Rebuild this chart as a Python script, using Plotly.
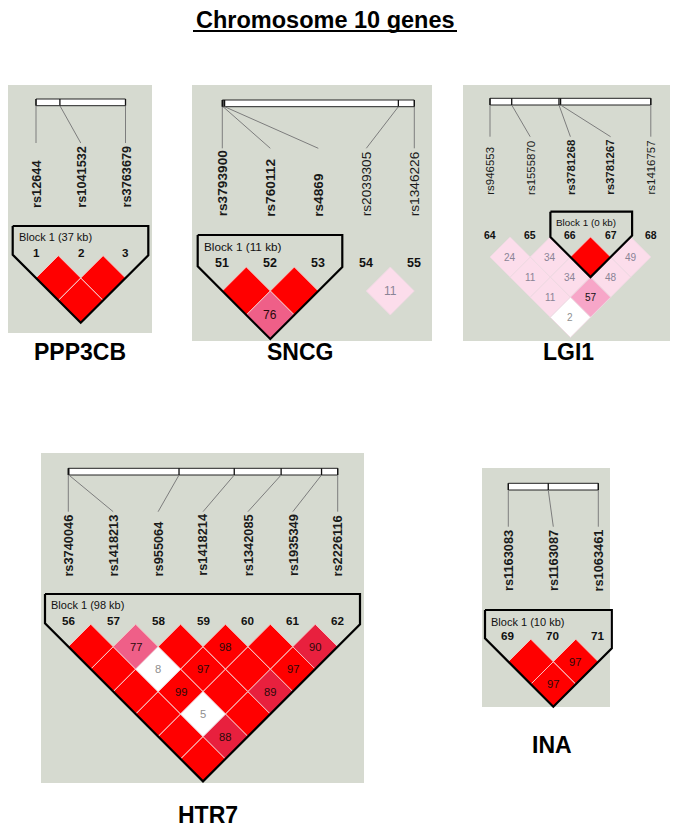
import plotly.graph_objects as go

# ---------------- data ----------------
title_text = "Chromosome 10 genes"

ppp3cb_markers = ["rs12644", "rs1041532", "rs3763679"]
ppp3cb_numbers = [1, 2, 3]
ppp3cb_pos = [0.0, 0.267, 1.0]          # relative physical position along the bar
ppp3cb_block = [0, 2]
ppp3cb_block_kb = 37
ppp3cb_dprime = [[100, 100], [100]]
ppp3cb_ldclass = [["R", "R"], ["R"]]

sncg_markers = ["rs3793900", "rs760112", "rs4869", "rs2039305", "rs1346226"]
sncg_numbers = [51, 52, 53, 54, 55]
sncg_pos = [0.0, 0.004, 0.012, 0.917, 1.0]
sncg_block = [0, 2]
sncg_block_kb = 11
sncg_dprime = [[100, 100, None, 11], [76, None, None], [None, None], [None]]
sncg_ldclass = [["R", "R", None, "l"], ["p", None, None], [None, None], [None]]

lgi1_markers = ["rs946553", "rs1555870", "rs3781268", "rs3781267", "rs1416757"]
lgi1_numbers = [64, 65, 66, 67, 68]
lgi1_pos = [0.0, 0.135, 0.429, 0.439, 1.0]
lgi1_block = [2, 3]
lgi1_block_kb = 0
lgi1_dprime = [[24, 34, 100, 49], [11, 34, 48], [11, 57], [2]]
lgi1_ldclass = [["l", "l", "R", "l"], ["l", "l", "l"], ["l", "m"], ["w"]]

htr7_markers = ["rs3740046", "rs1418213", "rs955064", "rs1418214", "rs1342085", "rs1935349", "rs2226116"]
htr7_numbers = [56, 57, 58, 59, 60, 61, 62]
htr7_pos = [0.0, 0.002, 0.411, 0.616, 0.79, 0.94, 1.0]
htr7_block = [0, 6]
htr7_block_kb = 98
htr7_dprime = [[100, 77, 100, 98, 100, 90],
               [100, 8, 97, 100, 97],
               [100, 99, 100, 89],
               [100, 5, 100],
               [100, 88],
               [100]]
htr7_ldclass = [["R", "p", "R", "R", "R", "d"],
                ["R", "w", "R", "R", "R"],
                ["R", "R", "R", "d"],
                ["R", "w", "R"],
                ["R", "d"],
                ["R"]]

ina_markers = ["rs1163083", "rs1163087", "rs1063461"]
ina_numbers = [69, 70, 71]
ina_pos = [0.0, 0.444, 1.0]
ina_block = [0, 2]
ina_block_kb = 10
ina_dprime = [[100, 97], [97]]
ina_ldclass = [["R", "R"], ["R"]]

# ---------------- styles / layout ----------------
FONT = "Liberation Sans, Arial, sans-serif"
GRAY = "#D6DAD0"
FILL = {"R": "#FF0000", "d": "#E8203E", "p": "#EF5F88", "m": "#F7A6C8", "l": "#FCDDEB", "w": "#FFFFFF"}
TXTC = {"R": "#2a0a0a", "d": "#2a0a0a", "p": "#2a0a0a", "m": "#111111", "l": "#8a8496", "w": "#8f8f8f"}

panels = [
    dict(gene="PPP3CB", markers=ppp3cb_markers, nums=ppp3cb_numbers, pos=ppp3cb_pos,
         block=ppp3cb_block, kb=ppp3cb_block_kb, dp=ppp3cb_dprime, cls=ppp3cb_ldclass,
         box=(8, 85, 152, 333), x0=36, s=44.75, yb=99, line_end=143, lab_bot=210,
         blk_top=226, blk_txt=237, num_y=252.5, row1=278, pad=(23.3, 22.8), gene_xy=(80, 352)),
    dict(gene="SNCG", markers=sncg_markers, nums=sncg_numbers, pos=sncg_pos,
         block=sncg_block, kb=sncg_block_kb, dp=sncg_dprime, cls=sncg_ldclass,
         box=(192, 85, 432, 341), x0=222.3, s=48.0, yb=100, line_end=148.3, lab_bot=218.5,
         blk_top=235, blk_txt=246.7, num_y=263.3, row1=291, pad=(24.6, 24.0), gene_xy=(300, 352)),
    dict(gene="LGI1", markers=lgi1_markers, nums=lgi1_numbers, pos=lgi1_pos,
         block=lgi1_block, kb=lgi1_block_kb, dp=lgi1_dprime, cls=lgi1_ldclass,
         box=(463, 85, 670, 341), x0=490, s=40.2, yb=98.3, line_end=136.7, lab_bot=196.7,
         blk_top=211.7, blk_txt=222.7, num_y=235, row1=257, pad=(20.0, 21.5), gene_xy=(568, 352)),
    dict(gene="HTR7", markers=htr7_markers, nums=htr7_numbers, pos=htr7_pos,
         block=htr7_block, kb=htr7_block_kb, dp=htr7_dprime, cls=htr7_ldclass,
         box=(41, 453, 364, 783), x0=68.3, s=44.9, yb=468.3, line_end=511.7, lab_bot=578.3,
         blk_top=594, blk_txt=605, num_y=620.7, row1=646.7, pad=(23.3, 22.3), gene_xy=(208, 815)),
    dict(gene="INA", markers=ina_markers, nums=ina_numbers, pos=ina_pos,
         block=ina_block, kb=ina_block_kb, dp=ina_dprime, cls=ina_ldclass,
         box=(482, 468, 610, 707), x0=508.3, s=45.0, yb=483.3, line_end=526.7, lab_bot=593.3,
         blk_top=610, blk_txt=622.3, num_y=635.7, row1=661.7, pad=(23.3, 13.5), gene_xy=(552, 745)),
]

fig = go.Figure()
shapes = []
annotations = []

for p in panels:
    s = p["s"]
    h = s / 2.0
    n = len(p["markers"])
    xs = [p["x0"] + i * s for i in range(n)]
    bx0, by0, bx1, by1 = p["box"]
    # gray panel
    shapes.append(dict(type="rect", xref="x", yref="y", x0=bx0, y0=by0, x1=bx1, y1=by1,
                       fillcolor=GRAY, line=dict(width=0), layer="below"))
    # physical map bar
    bar_l, bar_r = xs[0], xs[-1]
    yb = p["yb"]
    bh = 6.7
    shapes.append(dict(type="rect", xref="x", yref="y", x0=bar_l, y0=yb, x1=bar_r, y1=yb + bh,
                       fillcolor="white", line=dict(color="#222", width=1)))
    for i, fr in enumerate(p["pos"]):
        tx = bar_l + fr * (bar_r - bar_l)
        shapes.append(dict(type="line", xref="x", yref="y", x0=tx, y0=yb, x1=tx, y1=yb + bh,
                           line=dict(color="#111", width=1.3)))
        shapes.append(dict(type="line", xref="x", yref="y", x0=tx, y0=yb + bh, x1=xs[i], y1=p["line_end"],
                           line=dict(color="#7d7d7d", width=1)))
    a, b = p["block"]
    fsz_lab = s * 0.285
    for i, name in enumerate(p["markers"]):
        bold = a <= i <= b
        annotations.append(dict(x=xs[i], y=p["lab_bot"], xref="x", yref="y", text=("<b>%s</b>" % name) if bold else name,
                                textangle=-90, showarrow=False, xanchor="center", yanchor="bottom",
                                font=dict(family=FONT, size=fsz_lab, color="#1a1a1a")))
        annotations.append(dict(x=xs[i], y=p["num_y"], xref="x", yref="y", text="<b>%d</b>" % p["nums"][i],
                                showarrow=False, xanchor="center", yanchor="middle",
                                font=dict(family=FONT, size=s * 0.26, color="#111")))
    # LD cells
    groups = {}
    for k, row in enumerate(p["cls"]):
        for i, c in enumerate(row):
            if c is None:
                continue
            j = i + k + 1
            cx = (xs[i] + xs[j]) / 2.0
            cy = p["row1"] + k * h
            g = groups.setdefault(c, ([], []))
            g[0].extend([cx, cx + h, cx, cx - h, cx, None])
            g[1].extend([cy - h, cy, cy + h, cy, cy - h, None])
            v = p["dp"][k][i]
            if v is not None and v < 100:
                annotations.append(dict(x=cx, y=cy, xref="x", yref="y", text=str(v), showarrow=False,
                                        xanchor="center", yanchor="middle",
                                        font=dict(family=FONT, size=s * 0.25, color=TXTC[c])))
    for c, (gx, gy) in groups.items():
        edge = "#F6C6C6" if c in ("R", "d", "p") else "#EED9E2"
        fig.add_trace(go.Scatter(x=gx, y=gy, mode="lines", fill="toself", fillcolor=FILL[c],
                                 line=dict(color=edge, width=0.9), hoverinfo="skip", showlegend=False))
    # block outline
    L = xs[a] - p["pad"][0]
    R = xs[b] + p["pad"][1]
    ax_ = (xs[a] + xs[b]) / 2.0
    ay_ = p["row1"] + (b - a) * h
    ox = [L, R, R, ax_, L, L]
    oy = [p["blk_top"], p["blk_top"], ay_ - (R - ax_), ay_, ay_ - (ax_ - L), p["blk_top"]]
    fig.add_trace(go.Scatter(x=ox, y=oy, mode="lines", line=dict(color="black", width=2.2),
                             hoverinfo="skip", showlegend=False))
    annotations.append(dict(x=L + 4, y=p["blk_txt"], xref="x", yref="y", text="Block 1 (%d kb)" % p["kb"],
                            showarrow=False, xanchor="left", yanchor="middle",
                            font=dict(family=FONT, size=s * 0.245, color="#111")))
    gx_, gy_ = p["gene_xy"]
    annotations.append(dict(x=gx_, y=gy_, xref="x", yref="y", text="<b>%s</b>" % p["gene"], showarrow=False,
                            xanchor="center", yanchor="middle",
                            font=dict(family=FONT, size=23, color="black")))

# title
annotations.append(dict(x=325, y=19.5, xref="x", yref="y", text="<b>%s</b>" % title_text, showarrow=False,
                        xanchor="center", yanchor="middle", borderpad=0,
                        font=dict(family=FONT, size=23.5, color="black")))
shapes.append(dict(type="line", xref="x", yref="y", x0=193, y0=31, x1=457, y1=31,
                   line=dict(color="black", width=2.2)))

# the page body has an 8px margin: the plotting area starts at page pixel 8
OFF = 8
fig.update_layout(
    width=684 - OFF, height=838 - OFF, margin=dict(l=0, r=0, t=0, b=0),
    paper_bgcolor="white", plot_bgcolor="white",
    xaxis=dict(range=[OFF, 684], visible=False, fixedrange=True),
    yaxis=dict(range=[838, OFF], visible=False, fixedrange=True),
    shapes=shapes, annotations=annotations, showlegend=False,
)
fig.write_html("out.html")
